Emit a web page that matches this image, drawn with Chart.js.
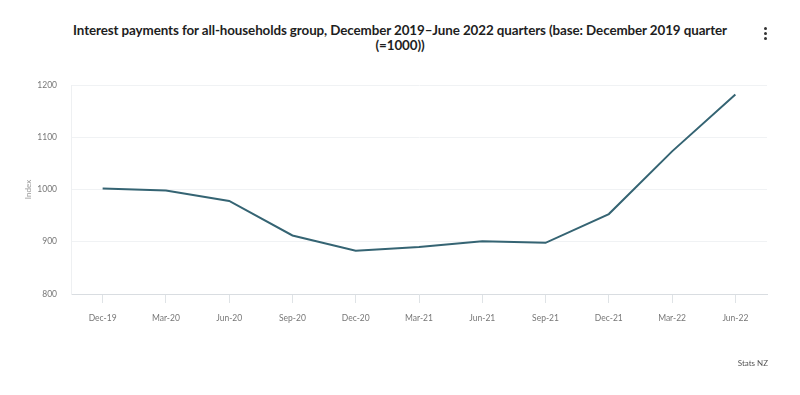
<!DOCTYPE html>
<html lang="en">
<head>
    <meta charset="UTF-8">
    <title>Interest payments for all-households group</title>
    <script src="https://cdn.jsdelivr.net/npm/chart.js"></script>
    <style>
        body { margin: 0; background: white; font-family: Lato, Arial, sans-serif; }
        .wrap { position: relative; width: 800px; height: 395px; overflow: hidden; }
        .titulo { position: absolute; top: 23px; left: 40px; width: 720px; text-align: center; font-weight: bold; font-size: 13.4px; line-height: 15px; color: #1e1e1e; letter-spacing: -0.1px; }
        .menu { position: absolute; left: 764px; top: 27px; width: 4px; }
        .menu span { display: block; width: 3px; height: 3px; border-radius: 50%; background: #333; margin-bottom: 2px; }
        .fuente { position: absolute; right: 32px; top: 358px; font-size: 8px; color: #555; }
        canvas { position: absolute; top: 0; left: 0; }
    </style>
</head>
<body>
    <div class="wrap">
        <div class="titulo">Interest payments for all-households group, December 2019–June 2022 quarters (base: December 2019 quarter<br>(=1000))</div>
        <div class="menu"><span></span><span></span><span></span></div>
        <canvas id="grafico" width="800" height="395"></canvas>
        <div class="fuente">Stats NZ</div>
    </div>
    <script>
        // datos
        const trimestres = ["Dec-19", "Mar-20", "Jun-20", "Sep-20", "Dec-20", "Mar-21", "Jun-21", "Sep-21", "Dec-21", "Mar-22", "Jun-22"];
        const indice = [1002, 998, 978, 912, 883, 890, 901, 898, 953, 1073, 1182];
        const ticksY = [800, 900, 1000, 1100, 1200];

        const ctx = document.getElementById("grafico").getContext("2d");
        new Chart(ctx, {
            type: "line",
            data: {
                labels: trimestres,
                datasets: [{
                    label: "Index",
                    data: indice,
                    borderColor: "#356473",
                    borderWidth: 2,
                    pointRadius: 0,
                    tension: 0,
                    fill: false
                }]
            },
            options: {
                responsive: false,
                animation: false,
                layout: { padding: { left: 24, right: 33, top: 85, bottom: 61 } },
                plugins: { legend: { display: false }, tooltip: { enabled: false } },
                scales: {
                    x: {
                        offset: true,
                        grid: { drawOnChartArea: false, color: "#dfe3e6", tickLength: 9 },
                        border: { color: "#d9dde1" },
                        ticks: { color: "#777", font: { family: "Lato", size: 8.5 }, padding: 10, maxRotation: 0, autoSkip: false },
                        afterFit: (s) => { s.height = 40; }
                    },
                    y: {
                        min: 800,
                        max: 1200,
                        afterBuildTicks: (s) => { s.ticks = ticksY.map(v => ({ value: v })); },
                        grid: { color: "#f0f2f4", drawTicks: false },
                        border: { color: "#eef0f2" },
                        ticks: { color: "#777", font: { family: "Lato", size: 8.5 }, padding: 14, callback: (v) => String(v) },
                        title: { display: true, text: "Index", color: "#999", font: { family: "Lato", size: 8 }, padding: 0 },
                        afterFit: (s) => { s.width = 47; }
                    }
                }
            }
        });
    </script>
</body>
</html>
